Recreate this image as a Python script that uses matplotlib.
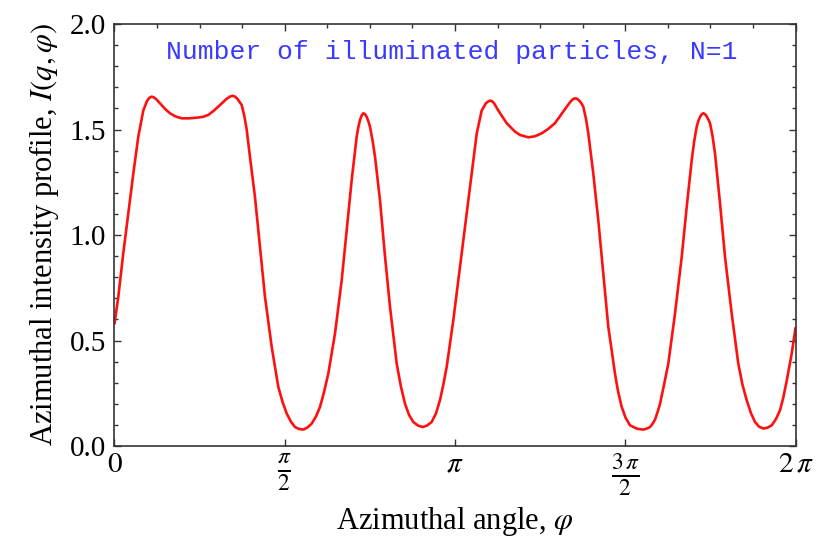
import numpy as np
import matplotlib
matplotlib.use("Agg")
import matplotlib.pyplot as plt
from matplotlib.ticker import MultipleLocator

plt.rcParams['font.family'] = ['Liberation Serif', 'DejaVu Serif']
plt.rcParams['mathtext.fontset'] = 'stix'

# ------------------------------------------------- DATA -------------------------------------------------

# azimuthal angle in units of pi
phi_over_pi = [0.0, 0.0112, 0.0258, 0.0405, 0.0552, 0.0699, 0.0846, 0.0954, 0.1022, 0.1093,
               0.1160, 0.1219, 0.1336, 0.1483, 0.1630, 0.1791, 0.1974, 0.2188, 0.2414, 0.2599,
               0.2755, 0.2922, 0.3098, 0.3289, 0.3392, 0.3471, 0.3539, 0.3612, 0.3736, 0.3812,
               0.3882, 0.3979, 0.4126, 0.4273, 0.4420, 0.4617, 0.4811, 0.4934, 0.5057, 0.5184,
               0.5301, 0.5419, 0.5545, 0.5668, 0.5791, 0.5918, 0.6035, 0.6153, 0.6279, 0.6476,
               0.6673, 0.6819, 0.6966, 0.7113, 0.7160, 0.7210, 0.7260, 0.7307, 0.7357, 0.7407,
               0.7454, 0.7504, 0.7577, 0.7651, 0.7797, 0.7944, 0.8091, 0.8288, 0.8408, 0.8532,
               0.8649, 0.8775, 0.8913, 0.9051, 0.9178, 0.9316, 0.9442, 0.9559, 0.9656, 0.9756,
               0.9950, 1.0147, 1.0344, 1.0490, 1.0637, 1.0784, 1.0910, 1.0969, 1.1028, 1.1087,
               1.1145, 1.1272, 1.1395, 1.1518, 1.1762, 1.1909, 1.2153, 1.2350, 1.2546, 1.2731,
               1.2937, 1.3113, 1.3280, 1.3407, 1.3466, 1.3524, 1.3583, 1.3642, 1.3700, 1.3768,
               1.3847, 1.3915, 1.4062, 1.4208, 1.4355, 1.4502, 1.4699, 1.4787, 1.4896, 1.5007,
               1.5140, 1.5345, 1.5530, 1.5639, 1.5727, 1.5800, 1.5874, 1.5947, 1.6021, 1.6138,
               1.6264, 1.6461, 1.6658, 1.6805, 1.6952, 1.7025, 1.7098, 1.7145, 1.7195, 1.7245,
               1.7292, 1.7342, 1.7392, 1.7439, 1.7489, 1.7562, 1.7636, 1.7783, 1.7930, 1.8126,
               1.8320, 1.8443, 1.8567, 1.8693, 1.8811, 1.8928, 1.9054, 1.9178, 1.9301, 1.9427,
               1.9545, 1.9642, 1.9742, 1.9888, 2.0]

intensity = [0.58, 0.707, 0.913, 1.10, 1.29, 1.466, 1.59, 1.635, 1.65, 1.656,
             1.652, 1.645, 1.624, 1.598, 1.577, 1.562, 1.553, 1.553, 1.556, 1.560,
             1.569, 1.590, 1.616, 1.645, 1.656, 1.660, 1.656, 1.645, 1.616, 1.565,
             1.50, 1.37, 1.18, 0.944, 0.707, 0.47, 0.28, 0.21, 0.154, 0.115,
             0.09, 0.081, 0.078, 0.088, 0.106, 0.14, 0.185, 0.255, 0.343, 0.533,
             0.786, 1.023, 1.26, 1.466, 1.51, 1.545, 1.567, 1.577, 1.573, 1.560,
             1.54, 1.513, 1.45, 1.371, 1.165, 0.90, 0.66, 0.39, 0.285, 0.20,
             0.148, 0.114, 0.097, 0.09, 0.097, 0.114, 0.155, 0.217, 0.29, 0.375,
             0.596, 0.849, 1.10, 1.29, 1.48, 1.59, 1.625, 1.632, 1.637, 1.634,
             1.625, 1.59, 1.56, 1.53, 1.49, 1.474, 1.463, 1.468, 1.482, 1.502,
             1.53, 1.57, 1.608, 1.635, 1.644, 1.648, 1.646, 1.638, 1.627, 1.608,
             1.55, 1.482, 1.29, 1.07, 0.818, 0.565, 0.343, 0.26, 0.185, 0.135,
             0.098, 0.082, 0.078, 0.083, 0.09, 0.105, 0.125, 0.16, 0.20, 0.29,
             0.39, 0.628, 0.896, 1.134, 1.355, 1.445, 1.513, 1.54, 1.56, 1.572,
             1.577, 1.573, 1.562, 1.548, 1.53, 1.47, 1.387, 1.15, 0.896, 0.628,
             0.39, 0.29, 0.217, 0.155, 0.114, 0.092, 0.083, 0.087, 0.098, 0.128,
             0.17, 0.23, 0.31, 0.438, 0.56]

x_ticks_over_pi = [0, 0.5, 1, 1.5, 2]
x_tick_labels = [r'$0$', r'$\frac{\pi}{2}$', r'$\pi$', r'$\frac{3\,\pi}{2}$', r'$2\,\pi$']
y_ticks = [0.0, 0.5, 1.0, 1.5, 2.0]

# ------------------------------------------------------ PLOT --------------------------------------------

phi = np.pi * np.array(phi_over_pi)

fig = plt.figure(figsize=(8.23, 5.47), dpi=100)
ax = fig.add_axes([0.1391, 0.1846, 0.8275, 0.7715])

ax.plot(phi, intensity, color='#ff1010', lw=1.9, solid_joinstyle='round', solid_capstyle='round')

ax.set_xlim(0, 2 * np.pi)
ax.set_ylim(0, 2.0)

ax.set_xticks(np.pi * np.array(x_ticks_over_pi))
ax.set_xticklabels(x_tick_labels, fontsize=21)
for lbl, txt in zip(ax.get_xticklabels(), x_tick_labels):
    if 'frac' in txt:
        lbl.set_fontsize(24)
ax.xaxis.set_minor_locator(MultipleLocator(np.pi / 8))
ax.set_yticks(y_ticks)
ax.set_yticklabels(['%.1f' % v for v in y_ticks], fontsize=21)
ax.yaxis.set_minor_locator(MultipleLocator(0.1))

ax.tick_params(which='both', direction='in', color='#333333', width=1.0)
ax.tick_params(which='major', length=5, top=True, right=True, pad=6)
ax.tick_params(axis='x', which='major', pad=4)
ax.tick_params(which='minor', length=3, right=True)
ax.tick_params(axis='x', which='minor', bottom=False, top=True)

for s in ax.spines.values():
    s.set_color('#333333')
    s.set_linewidth(1.2)

ax.set_xlabel(r'Azimuthal angle, $\varphi$', fontsize=22)
ax.xaxis.set_label_coords(0.5, -0.14)
ax.set_ylabel(r'Azimuthal intensity profile, $I(q,\varphi)$', fontsize=22, labelpad=6)

ax.text(0.495, 0.934, 'Number of illuminated particles, N=1', transform=ax.transAxes,
        ha='center', va='center', color='#3a3aff', fontsize=19, family='Liberation Mono')

fig.savefig('out.png', dpi=100)
